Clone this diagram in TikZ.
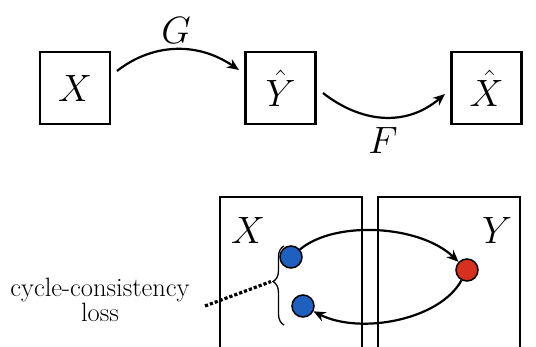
\documentclass[tikz,border=0pt]{standalone}
\usepackage{graphicx}
\usetikzlibrary{arrows.meta,decorations.pathreplacing}
\definecolor{dotblue}{HTML}{1F5FBF}
\definecolor{dotred}{HTML}{D8301F}
\newcommand{\mathlbl}[1]{\scalebox{1.53}{\Huge$#1$}}
\begin{document}
\begin{tikzpicture}[x=1pt,y=-1pt,
  box/.style={draw,line width=2.6pt,minimum width=70pt,minimum height=72pt,inner sep=0pt},
  bigbox/.style={draw,line width=2.2pt,minimum width=142pt,minimum height=152pt,inner sep=0pt},
  lbl/.style={inner sep=0pt},
  arr/.style={line width=2.2pt,-{Stealth[length=12pt,width=10pt]}},
  dot/.style={circle,draw,line width=1.5pt,minimum size=22pt,inner sep=0pt}]
\useasboundingbox (0,0) rectangle (536,347);
% top row
\node[box] (x) at (75,88) {\mathlbl{X}};
\node[box] (yh) at (280.5,88) {\mathlbl{\hat{Y}}};
\node[box] (xh) at (486.5,88) {\mathlbl{\hat{X}}};
\coordinate (g1) at (117,71);
\coordinate (g2) at (239,70);
\draw[arr] (g1) .. controls (150,45) and (195,40) .. (g2);
\node[lbl] (gl) at (176,30) {\mathlbl{G}};
\coordinate (f1) at (323,93);
\coordinate (f2) at (445,94);
\draw[arr] (f1) .. controls (360,122) and (405,128) .. (f2);
\node[lbl] (fl) at (383,140) {\mathlbl{F}};
% bottom
\node[bigbox] (bx) at (291,273) {};
\node[bigbox] (by) at (449,273) {};
\node[lbl] (xl) at (248,230) {\mathlbl{X}};
\node[lbl] (yl) at (497,230) {\mathlbl{Y}};
\node[dot,fill=dotblue] (b1) at (291,257) {};
\node[dot,fill=dotred] (r) at (467,270) {};
\node[dot,fill=dotblue] (b2) at (303,306) {};
\draw[arr] (b1) .. controls (335,220) and (420,225) .. (r);
\draw[arr] (r) .. controls (440,320) and (360,335) .. (b2);
\draw[decorate,decoration={brace,amplitude=11pt,aspect=0.55},line width=1.3pt] (284,325) -- node[coordinate,pos=0.55,xshift=-13pt] (bt) {} (284,246);
\node[font=\fontsize{26.5}{28}\selectfont,align=center,inner sep=0pt] (cc) at (100,300) {cycle-consistency\\[-3pt]loss};
\coordinate (d0) at (205,306);
\draw[line width=3.2pt,dotted] (d0) -- (bt);
\end{tikzpicture}
\end{document}
